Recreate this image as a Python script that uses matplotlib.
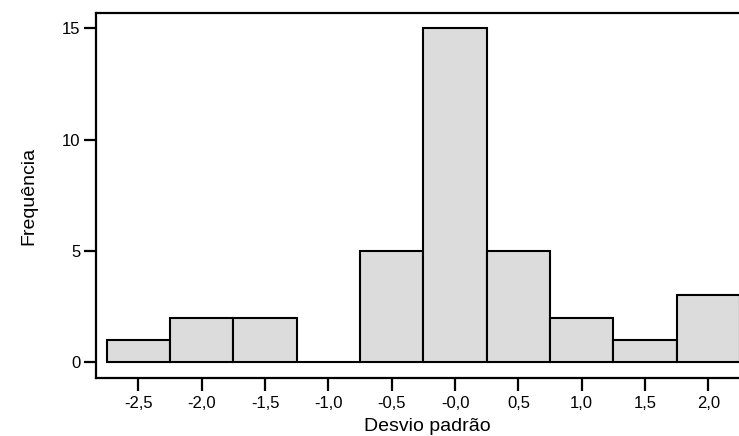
import matplotlib
matplotlib.use("Agg")
from matplotlib import pyplot as plt

# histogram bins (centres) and counts
bin_centres = [-2.5, -2.0, -1.5, -1.0, -0.5, 0.0, 0.5, 1.0, 1.5, 2.0]
counts = [1, 2, 2, 0, 5, 15, 5, 2, 1, 3]
bin_width = 0.5

x_ticks = [-2.5, -2.0, -1.5, -1.0, -0.5, 0.0, 0.5, 1.0, 1.5, 2.0]
x_tick_labels = ["-2,5", "-2,0", "-1,5", "-1,0", "-0,5", "-0,0", "0,5", "1,0", "1,5", "2,0"]
y_ticks = [0, 5, 10, 15]

plt.rcParams['font.family'] = ['Liberation Sans', 'DejaVu Sans']

fig = plt.figure(figsize=(7.39, 4.36), dpi=100, facecolor='white')
# the right part of the frame runs past the picture edge, as in the original
ax = fig.add_axes([0.1299, 0.1323, 0.8973, 0.8385])

ax.bar(bin_centres, counts, width=bin_width, color='#dcdcdc',
       edgecolor='black', linewidth=1.5, zorder=2)

ax.set_xlim(-2.834, 2.4)
ax.set_ylim(-0.73, 15.70)

ax.set_xticks(x_ticks)
ax.set_xticklabels(x_tick_labels)
ax.set_yticks(y_ticks)

ax.spines['right'].set_visible(False)
for side in ['left', 'top', 'bottom']:
    ax.spines[side].set_linewidth(1.6)

ax.tick_params(axis='both', length=9, width=1.6, labelsize=12, direction='out')
ax.tick_params(axis='x', pad=4)
ax.tick_params(axis='y', pad=2)

ax.set_xlabel('Desvio padrão', fontsize=14, labelpad=5)
ax.set_ylabel('Frequência', fontsize=14, labelpad=18)

fig.savefig('out.png', dpi=100)
